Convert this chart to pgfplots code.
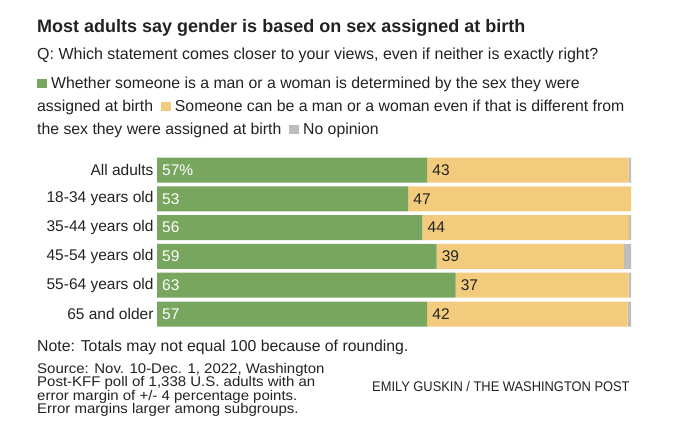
\documentclass[border=0pt]{standalone}
\usepackage{pgfplots}
\pgfplotsset{compat=1.18}
\usepackage{pgfplotstable}
\usepackage{fontspec}
\setmainfont{Liberation Sans}
\newfontfamily\condfont[FakeStretch=0.92]{Liberation Sans}
\newfontfamily\widefont[FakeStretch=1.07]{Liberation Sans}
\definecolor{cgreen}{HTML}{78A65E}
\definecolor{cyellow}{HTML}{F2CC7C}
\definecolor{cgray}{HTML}{BDBDBD}
\definecolor{ctext}{HTML}{222222}
\pgfplotstableread{
y g ye n gl yl
0 57 42.5 0.5 57\% 43
1 53 47.0 0.0 53 47
2 56 43.6 0.4 56 44
3 59 39.5 1.5 59 39
4 63 36.5 0.5 63 37
5 57 42.3 0.7 57 42
}\data
\newcommand{\sq}[1]{\textcolor{#1}{\rule{9.5pt}{9.5pt}}}
\pgfplotsset{commonax/.style={
  at={(157pt,-155.6pt)}, anchor=north west,
  scale only axis, width=474pt, height=172.8pt,
  xmin=0, xmax=100, ymin=-0.5, ymax=5.5, y dir=reverse,
  axis line style={draw=none}, xtick=\empty, major tick length=0pt,
  clip=false}}
\begin{document}
\begin{tikzpicture}
\path[use as bounding box] (0,0) rectangle (680pt,-431pt);
\begin{axis}[commonax,
  xbar stacked, bar width=25pt,
  ytick={0,1,2,3,4,5},
  yticklabels={All adults,18-34 years old,35-44 years old,45-54 years old,55-64 years old,65 and older},
  yticklabel style={font=\fontsize{15.5}{18}\selectfont, text=ctext},
]
\addplot[draw=none, fill=cgreen] table[x=g, y=y] {\data};
\addplot[draw=none, fill=cyellow] table[x=ye, y=y] {\data};
\addplot[draw=none, fill=cgray] table[x=n, y=y] {\data};
\end{axis}
\begin{axis}[commonax, ytick=\empty]
\addplot[only marks, mark=none, nodes near coords, point meta=explicit symbolic,
  every node near coord/.style={anchor=west, xshift=5pt, inner sep=0pt, text=white, font=\fontsize{15.5}{18}\selectfont}]
  table[x expr=0, y=y, meta=gl] {\data};
\addplot[only marks, mark=none, nodes near coords, point meta=explicit symbolic,
  every node near coord/.style={anchor=west, xshift=5pt, inner sep=0pt, text=ctext, font=\fontsize{15.5}{18}\selectfont}]
  table[x=g, y=y, meta=yl] {\data};
\end{axis}
\begin{scope}[every node/.style={anchor=base west, inner sep=0pt, text=ctext}]
\node[font=\fontsize{18}{21}\selectfont\bfseries] at (37pt,-32pt) {Most adults say gender is based on sex assigned at birth};
\node[font=\fontsize{16}{18}\selectfont] at (37pt,-59pt) {Q: Which statement comes closer to your views, even if neither is exactly right?};
\node[font=\fontsize{15.8}{18}\selectfont] at (37pt,-88pt) {\sq{cgreen} Whether someone is a man or a woman is determined by the sex they were};
\node[font=\fontsize{15.8}{18}\selectfont] at (37pt,-111pt) {assigned at birth\enspace\sq{cyellow} Someone can be a man or a woman even if that is different from};
\node[font=\fontsize{15.8}{18}\selectfont] at (37pt,-134pt) {the sex they were assigned at birth\enspace\sq{cgray} No opinion};
\node[font=\fontsize{15.8}{18}\selectfont] at (37pt,-351pt) {Note: Totals may not equal 100 because of rounding.};
\node[font=\widefont\fontsize{14}{18}\selectfont] at (37pt,-373.6pt) {Source: Nov. 10-Dec. 1, 2022, Washington};
\node[font=\widefont\fontsize{14}{18}\selectfont] at (37pt,-386.9pt) {Post-KFF poll of 1,338 U.S. adults with an};
\node[font=\widefont\fontsize{14}{18}\selectfont] at (37pt,-400.2pt) {error margin of +/- 4 percentage points.};
\node[font=\widefont\fontsize{14}{18}\selectfont] at (37pt,-413.5pt) {Error margins larger among subgroups.};
\node[font=\condfont\fontsize{14}{18}\selectfont] at (372pt,-391pt) {EMILY GUSKIN / THE WASHINGTON POST};
\end{scope}
\end{tikzpicture}
\end{document}
